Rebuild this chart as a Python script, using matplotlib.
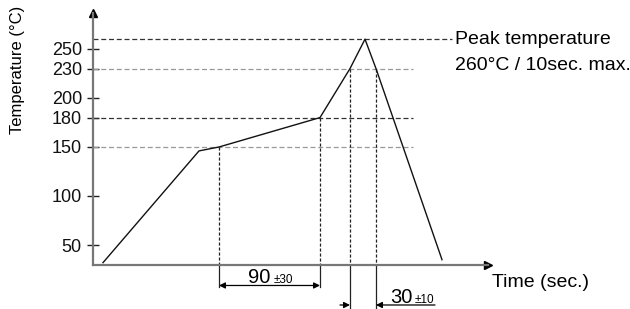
import matplotlib
matplotlib.use("Agg")
import matplotlib.pyplot as plt

plt.rcParams['font.family'] = ['Liberation Sans', 'DejaVu Sans']

# Reflow profile (time in arbitrary schematic units, temperature in °C)
profile_time = [10, 106, 126, 227, 257, 272, 283, 349]
profile_temp = [32, 146, 150, 180, 230, 260, 230, 35]

yticks = [50, 100, 150, 180, 200, 230, 250]

# Reference (horizontal dashed) levels
dark_levels = [260, 180]
dark_level_ends = [359, 320]
light_levels = [230, 150]
light_level_ends = [320, 320]

# Vertical guide positions (time) and the temperature they start from
guide_times = [126, 227, 257, 283]
guide_temps = [150, 180, 230, 230]
guide_bottoms = [7, 7, -15, -15]

soak_label = "90"
soak_tol = "±30"
peak_label = "30"
peak_tol = "±10"
peak_text = ["Peak temperature", "260°C / 10sec. max."]

W, H = 630, 309
fig = plt.figure(figsize=(W / 100, H / 100), dpi=100)
ax = fig.add_axes([93 / W, 44 / H, 395 / W, 252 / H])
ax.set_xlim(0, 395)
ax.set_ylim(29.6, 286.7)

for s in ['top', 'right']:
    ax.spines[s].set_visible(False)
for s in ['left', 'bottom']:
    ax.spines[s].set_color('#777777')
    ax.spines[s].set_linewidth(1.6)

ax.set_xticks([])
ax.set_yticks(yticks)
ax.set_yticklabels([str(v) for v in yticks], fontsize=13, color='#111111')
ax.tick_params(axis='y', direction='inout', length=8, width=1, color='#222222', pad=4)

# axis arrowheads
ax.plot([0], [1.0], marker='^', markersize=6, color='black', transform=ax.transAxes,
        clip_on=False)
ax.plot([1.0], [0], marker='>', markersize=6, color='black', transform=ax.transAxes,
        clip_on=False)

# horizontal dashed levels
for lv, xe in zip(dark_levels, dark_level_ends):
    ax.plot([0, xe], [lv, lv], color='#333333', lw=0.9, dashes=(4, 2.2))
for lv, xe in zip(light_levels, light_level_ends):
    ax.plot([0, xe], [lv, lv], color='#999999', lw=0.9, dashes=(4, 2.2))

# vertical guides: dashed inside, solid below axis
ybot = 29.6
for t, tp, yb in zip(guide_times, guide_temps, guide_bottoms):
    ax.plot([t, t], [tp, ybot], color='#222222', lw=0.9, dashes=(2.5, 1.5), clip_on=False)
    ax.plot([t, t], [ybot, yb], color='#222222', lw=0.9, clip_on=False)

# profile curve
ax.plot(profile_time, profile_temp, color='#111111', lw=1.0)

# dimension 90 ±30
ap = dict(arrowstyle='<|-|>', color='black', lw=0.9, mutation_scale=9, shrinkA=0, shrinkB=0)
ax.annotate('', xy=(guide_times[0], 8.7), xytext=(guide_times[1], 8.7),
            arrowprops=ap, annotation_clip=False)
ax.text(177, 11.5, soak_label, fontsize=14.5, ha='right', va='baseline')
ax.text(181, 11.5, soak_tol, fontsize=8.5, ha='left', va='baseline')

# dimension 30 ±10
ap2 = dict(arrowstyle='-|>', color='black', lw=0.9, mutation_scale=9, shrinkA=0, shrinkB=0)
ax.annotate('', xy=(guide_times[2], -11.2), xytext=(247, -11.2),
            arrowprops=ap2, annotation_clip=False)
ax.annotate('', xy=(guide_times[3], -11.2), xytext=(342, -11.2),
            arrowprops=ap2, annotation_clip=False)
ax.text(320, -9.0, peak_label, fontsize=14.5, ha='right', va='baseline')
ax.text(322, -9.0, peak_tol, fontsize=8.5, ha='left', va='baseline')

# labels
ax.text(399, 11.8, "Time (sec.)", fontsize=14, ha='left', va='center', clip_on=False)
ax.text(362, 254.6, peak_text[0], fontsize=14, ha='left', va='baseline', clip_on=False)
ax.text(362, 228.6, peak_text[1], fontsize=14, ha='left', va='baseline', clip_on=False)
fig.text(18 / W, 1 - 70 / H, "Temperature (°C)", rotation=90, fontsize=12,
         ha='center', va='center')

fig.savefig("out.png", dpi=100)
